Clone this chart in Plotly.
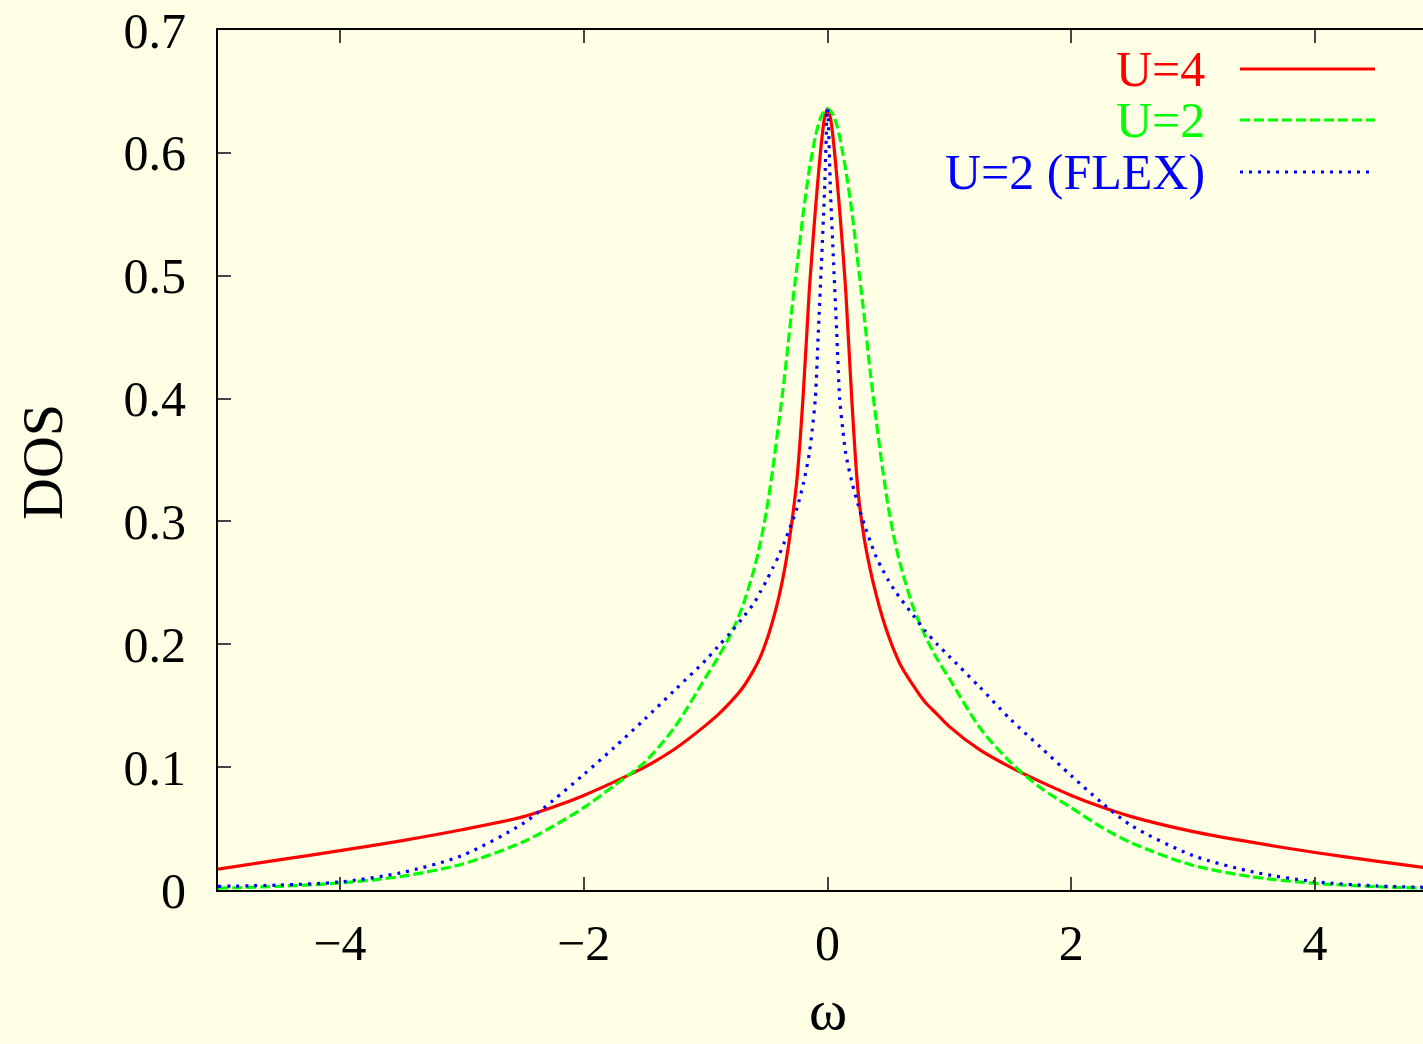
import plotly.graph_objects as go

# ---- data ----
omega = [-5, -4.5, -4, -3.5, -3, -2.5, -2.25, -2, -1.75, -1.5, -1.25, -1, -0.9, -0.8, -0.7, -0.6, -0.55, -0.5,
         -0.45, -0.4, -0.35, -0.3, -0.25, -0.2, -0.15, -0.125, -0.1, -0.075, -0.05, -0.025,
         0,
         0.025, 0.05, 0.075, 0.1, 0.125, 0.15, 0.2, 0.25, 0.3, 0.35, 0.4, 0.45, 0.5, 0.55, 0.6,
         0.7, 0.8, 0.9, 1.0, 1.25, 1.5, 1.75, 2.0, 2.25, 2.5, 3.0, 3.5, 4.0, 4.5, 5.0]

dos_u4 = [0.017, 0.0245, 0.032, 0.040, 0.049, 0.0595, 0.0675, 0.077, 0.088, 0.100, 0.115, 0.134, 0.1425, 0.1525, 0.164, 0.180, 0.190, 0.203,
          0.219, 0.238, 0.262, 0.294, 0.335, 0.402, 0.487, 0.521, 0.553, 0.582, 0.608, 0.628,
          0.636,
          0.628, 0.608, 0.582, 0.553, 0.521, 0.487, 0.398, 0.325, 0.287, 0.261, 0.240, 0.222, 0.207, 0.194, 0.183,
          0.167, 0.153, 0.143, 0.133, 0.114, 0.100, 0.088, 0.077, 0.0675, 0.0595, 0.0475, 0.0385, 0.0305, 0.0235, 0.017]

dos_u2 = [0.0015, 0.003, 0.0057, 0.011, 0.021, 0.039, 0.052, 0.067, 0.085, 0.104, 0.133, 0.173, 0.189, 0.207, 0.230, 0.262, 0.283, 0.309,
          0.342, 0.380, 0.420, 0.466, 0.508, 0.550, 0.586, 0.600, 0.613, 0.623, 0.630, 0.634,
          0.636,
          0.634, 0.630, 0.623, 0.613, 0.600, 0.586, 0.552, 0.510, 0.468, 0.422, 0.382, 0.344, 0.311, 0.285, 0.264,
          0.231, 0.207, 0.188, 0.172, 0.132, 0.104, 0.083, 0.067, 0.051, 0.038, 0.020, 0.0105, 0.0054, 0.0027, 0.0013]

dos_flex = [0.003, 0.004, 0.0065, 0.014, 0.028, 0.054, 0.073, 0.094, 0.116, 0.139, 0.163, 0.187, 0.198, 0.209, 0.221, 0.234, 0.243, 0.252,
            0.262, 0.272, 0.284, 0.297, 0.311, 0.330, 0.355, 0.375, 0.400, 0.455, 0.510, 0.567,
            0.636,
            0.567, 0.510, 0.455, 0.400, 0.375, 0.355, 0.332, 0.314, 0.298, 0.284, 0.271, 0.261, 0.252, 0.244, 0.237,
            0.224, 0.211, 0.200, 0.190, 0.165, 0.139, 0.116, 0.093, 0.071, 0.052, 0.028, 0.0145, 0.0068, 0.0033, 0.002]

labels = ["U=4", "U=2", "U=2 (FLEX)"]
colors = ["#FF0000", "#00FF00", "#0000FF"]
dashes = ["solid", "10px,4px", "3px,6px"]
series = [dos_u4, dos_u2, dos_flex]

x_ticks = [-4, -2, 0, 2, 4]
y_ticks = [0, 0.1, 0.2, 0.3, 0.4, 0.5, 0.6, 0.7]

FONT = "Liberation Serif, Times New Roman, serif"
BG = "#FFFFE5"
LW = 3.2

fig = go.Figure()
for lab, col, dsh, ys in zip(labels, colors, dashes, series):
    fig.add_trace(go.Scatter(x=omega, y=ys, mode="lines", name=lab,
                             line=dict(color=col, width=LW, dash=dsh, shape="spline", smoothing=0.8),
                             showlegend=False))

W, H = 1423, 1044
L, R, T, B = 218, 0, 30, 154
pw, ph = W - L - R, H - T - B

def px_x(p):
    return (p - L) / pw

def px_y(p):
    return (T + ph - p) / ph

# legend (text left of sample line, gnuplot-style)
legend_rows = [69, 120, 172]
for lab, col, dsh, row in zip(labels, colors, dashes, legend_rows):
    fig.add_annotation(x=px_x(1207), y=px_y(row), xref="paper", yref="paper",
                       text=lab, showarrow=False, xanchor="right", yanchor="middle",
                       font=dict(family=FONT, size=50, color=col))
    fig.add_shape(type="line", xref="paper", yref="paper",
                  x0=px_x(1240), x1=px_x(1375), y0=px_y(row), y1=px_y(row),
                  line=dict(color=col, width=LW, dash=dsh))

# axis titles
fig.add_annotation(x=px_x(828), y=px_y(1044), xref="paper", yref="paper", text="ω",
                   showarrow=False, xanchor="center", yanchor="bottom",
                   font=dict(family=FONT, size=58, color="black"))
fig.add_annotation(x=px_x(42), y=px_y(462), xref="paper", yref="paper", text="DOS",
                   showarrow=False, xanchor="center", yanchor="middle", textangle=-90,
                   font=dict(family=FONT, size=58, color="black"))

fig.update_layout(
    width=W, height=H,
    margin=dict(l=L, r=R, t=T, b=B),
    paper_bgcolor=BG, plot_bgcolor=BG,
    font=dict(family=FONT, size=50, color="black"),
)
fig.update_xaxes(range=[-5, 4.885], tickvals=x_ticks, ticks="inside", ticklen=13, tickwidth=2,
                 showline=True, linewidth=2, linecolor="black", mirror="ticks",
                 showgrid=False, zeroline=False, ticklabelstandoff=8,
                 tickfont=dict(family=FONT, size=50, color="black"))
fig.update_yaxes(range=[0, 0.7], tickvals=y_ticks, ticktext=[f"{v:g}" for v in y_ticks],
                 ticks="inside", ticklen=13, tickwidth=2,
                 showline=True, linewidth=2, linecolor="black", mirror=False,
                 showgrid=False, zeroline=False, ticklabelstandoff=20,
                 tickfont=dict(family=FONT, size=50, color="black"))

fig.write_html("out.html", config={"displayModeBar": False},
               post_script="document.body.style.margin='0';document.body.style.background='" + BG + "';")
